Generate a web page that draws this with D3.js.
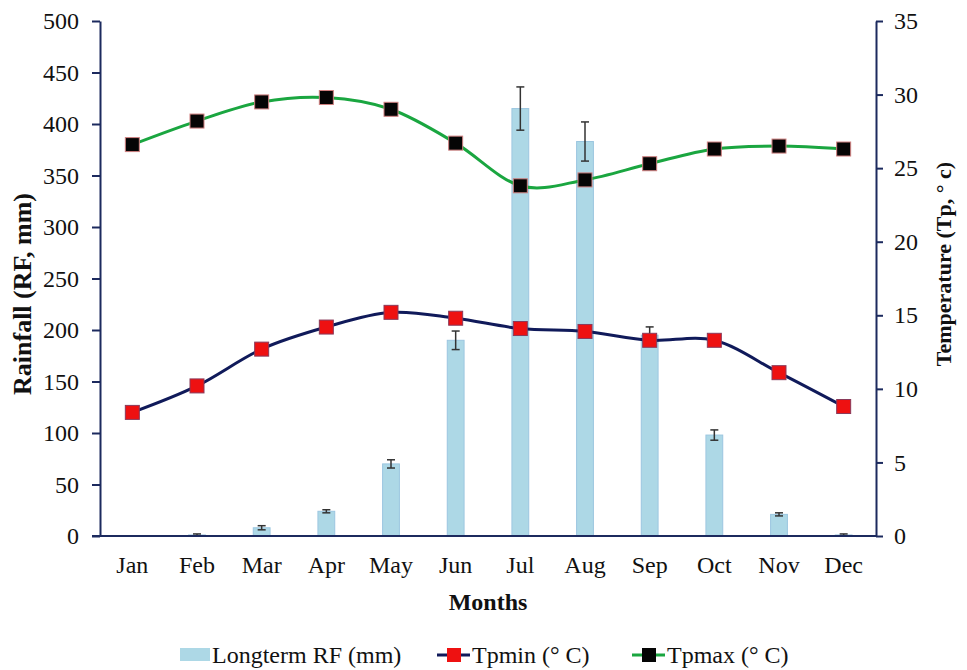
<!DOCTYPE html>
<html>
<head>
<meta charset="utf-8">
<script src="https://cdn.jsdelivr.net/npm/d3@7"></script>
<style>
  html, body { margin: 0; padding: 0; background: #fff; }
  svg { display: block; }
  svg text { font-family: 'Liberation Serif', 'Times New Roman', serif; fill: #111; }
</style>
</head>
<body>
<svg id="chart" width="967" height="670"></svg>
<script>
// Monthly climate data
const months = ["Jan", "Feb", "Mar", "Apr", "May", "Jun", "Jul", "Aug", "Sep", "Oct", "Nov", "Dec"];
const rainfall = [0, 1, 8, 24, 70, 190, 415, 383, 195, 98, 21, 1];
const rainfallErr = [0, 1, 2, 1.5, 4, 9, 21, 19, 8, 5, 1.5, 1];
const tpmin = [8.4, 10.2, 12.7, 14.2, 15.2, 14.8, 14.1, 13.9, 13.3, 13.3, 11.1, 8.8];
const tpmax = [26.6, 28.2, 29.5, 29.8, 29.0, 26.7, 23.8, 24.2, 25.3, 26.3, 26.5, 26.3];
const rainTicks = [0, 50, 100, 150, 200, 250, 300, 350, 400, 450, 500];
const tempTicks = [0, 5, 10, 15, 20, 25, 30, 35];

const svg = d3.select("#chart");
const plotLeft = 100, plotRight = 876, plotTop = 21, plotBottom = 536;
const axisColor = "#1c2a5e";

const x = d3.scaleBand().domain(months).range([plotLeft, plotRight]).paddingInner(0.74).paddingOuter(0.37);
const yRain = d3.scaleLinear().domain([0, 500]).range([plotBottom, plotTop]);
const yTemp = d3.scaleLinear().domain([0, 35]).range([plotBottom, plotTop]);
const cx = m => x(m) + x.bandwidth() / 2;

// Rainfall bars
svg.append("g").selectAll("rect").data(months).join("rect")
  .attr("x", d => x(d))
  .attr("y", (d, i) => yRain(rainfall[i]))
  .attr("width", x.bandwidth())
  .attr("height", (d, i) => plotBottom - yRain(rainfall[i]))
  .attr("fill", "#add8e6")
  .attr("stroke", "#9cc6e0")
  .attr("stroke-width", 1);

// Error bars
const eb = svg.append("g").attr("stroke", "#333").attr("stroke-width", 1.5);
months.forEach((m, i) => {
  if (rainfall[i] <= 0) return;
  const lo = yRain(rainfall[i] - rainfallErr[i]);
  const hi = yRain(rainfall[i] + rainfallErr[i]);
  const c = cx(m);
  eb.append("line").attr("x1", c).attr("x2", c).attr("y1", lo).attr("y2", hi);
  eb.append("line").attr("x1", c - 4).attr("x2", c + 4).attr("y1", lo).attr("y2", lo);
  eb.append("line").attr("x1", c - 4).attr("x2", c + 4).attr("y1", hi).attr("y2", hi);
});

// Temperature lines (smoothed) with square markers
const line = d3.line().curve(d3.curveCardinal.tension(0));
function series(vals, color, fill, markStroke) {
  const pts = months.map((m, i) => [cx(m), yTemp(vals[i])]);
  svg.append("path").attr("d", line(pts)).attr("fill", "none")
    .attr("stroke", color).attr("stroke-width", 3);
  svg.append("g").selectAll("rect").data(pts).join("rect")
    .attr("x", d => d[0] - 7).attr("y", d => d[1] - 7)
    .attr("width", 14).attr("height", 14)
    .attr("fill", fill).attr("stroke", markStroke).attr("stroke-width", 1);
}
series(tpmin, "#101a5a", "#ee1111", "#8a3a5a");
series(tpmax, "#1aa640", "#050505", "#d08080");

// Axes
const axL = svg.append("g").attr("transform", `translate(${plotLeft},0)`)
  .call(d3.axisLeft(yRain).tickValues(rainTicks).tickSize(8).tickPadding(13).tickSizeOuter(0));
const axR = svg.append("g").attr("transform", `translate(${plotRight},0)`)
  .call(d3.axisRight(yTemp).tickValues(tempTicks).tickSize(7).tickPadding(11).tickSizeOuter(0));
const axB = svg.append("g").attr("transform", `translate(0,${plotBottom})`)
  .call(d3.axisBottom(x).tickSize(0).tickPadding(20).tickSizeOuter(0));
[axL, axR, axB].forEach(a => {
  a.attr("font-family", null).attr("font-size", null);
  a.selectAll(".domain").attr("stroke", axisColor).attr("stroke-width", 2);
  a.selectAll(".tick line").attr("stroke", axisColor).attr("stroke-width", 2);
  a.selectAll("text").style("font-size", "24px");
});
axB.select(".domain").attr("d", `M${plotLeft - 8},0H${plotRight}`);

// Axis titles
svg.append("text").attr("transform", `translate(31,294) rotate(-90)`)
  .attr("text-anchor", "middle").attr("font-weight", "bold").style("font-size", "26px")
  .text("Rainfall (RF, mm)");
svg.append("text").attr("transform", `translate(951,264) rotate(-90)`)
  .attr("text-anchor", "middle").attr("font-weight", "bold").style("font-size", "22px")
  .text("Temperature (Tp, ° c)");
svg.append("text").attr("x", 488).attr("y", 610)
  .attr("text-anchor", "middle").attr("font-weight", "bold").style("font-size", "24px")
  .text("Months");

// Legend
const lg = svg.append("g").style("font-size", "24px");
lg.append("rect").attr("x", 180).attr("y", 648).attr("width", 30).attr("height", 13).attr("fill", "#add8e6");
lg.append("text").attr("x", 212).attr("y", 663).text("Longterm RF (mm)");
function legendLine(x0, color, fill, label) {
  lg.append("line").attr("x1", x0).attr("x2", x0 + 33).attr("y1", 655).attr("y2", 655)
    .attr("stroke", color).attr("stroke-width", 3);
  lg.append("rect").attr("x", x0 + 10).attr("y", 648).attr("width", 14).attr("height", 14).attr("fill", fill);
  lg.append("text").attr("x", x0 + 35).attr("y", 663).text(label);
}
legendLine(437, "#101a5a", "#ee1111", "Tpmin  (° C)");
legendLine(632, "#1aa640", "#050505", "Tpmax (° C)");
</script>
</body>
</html>
